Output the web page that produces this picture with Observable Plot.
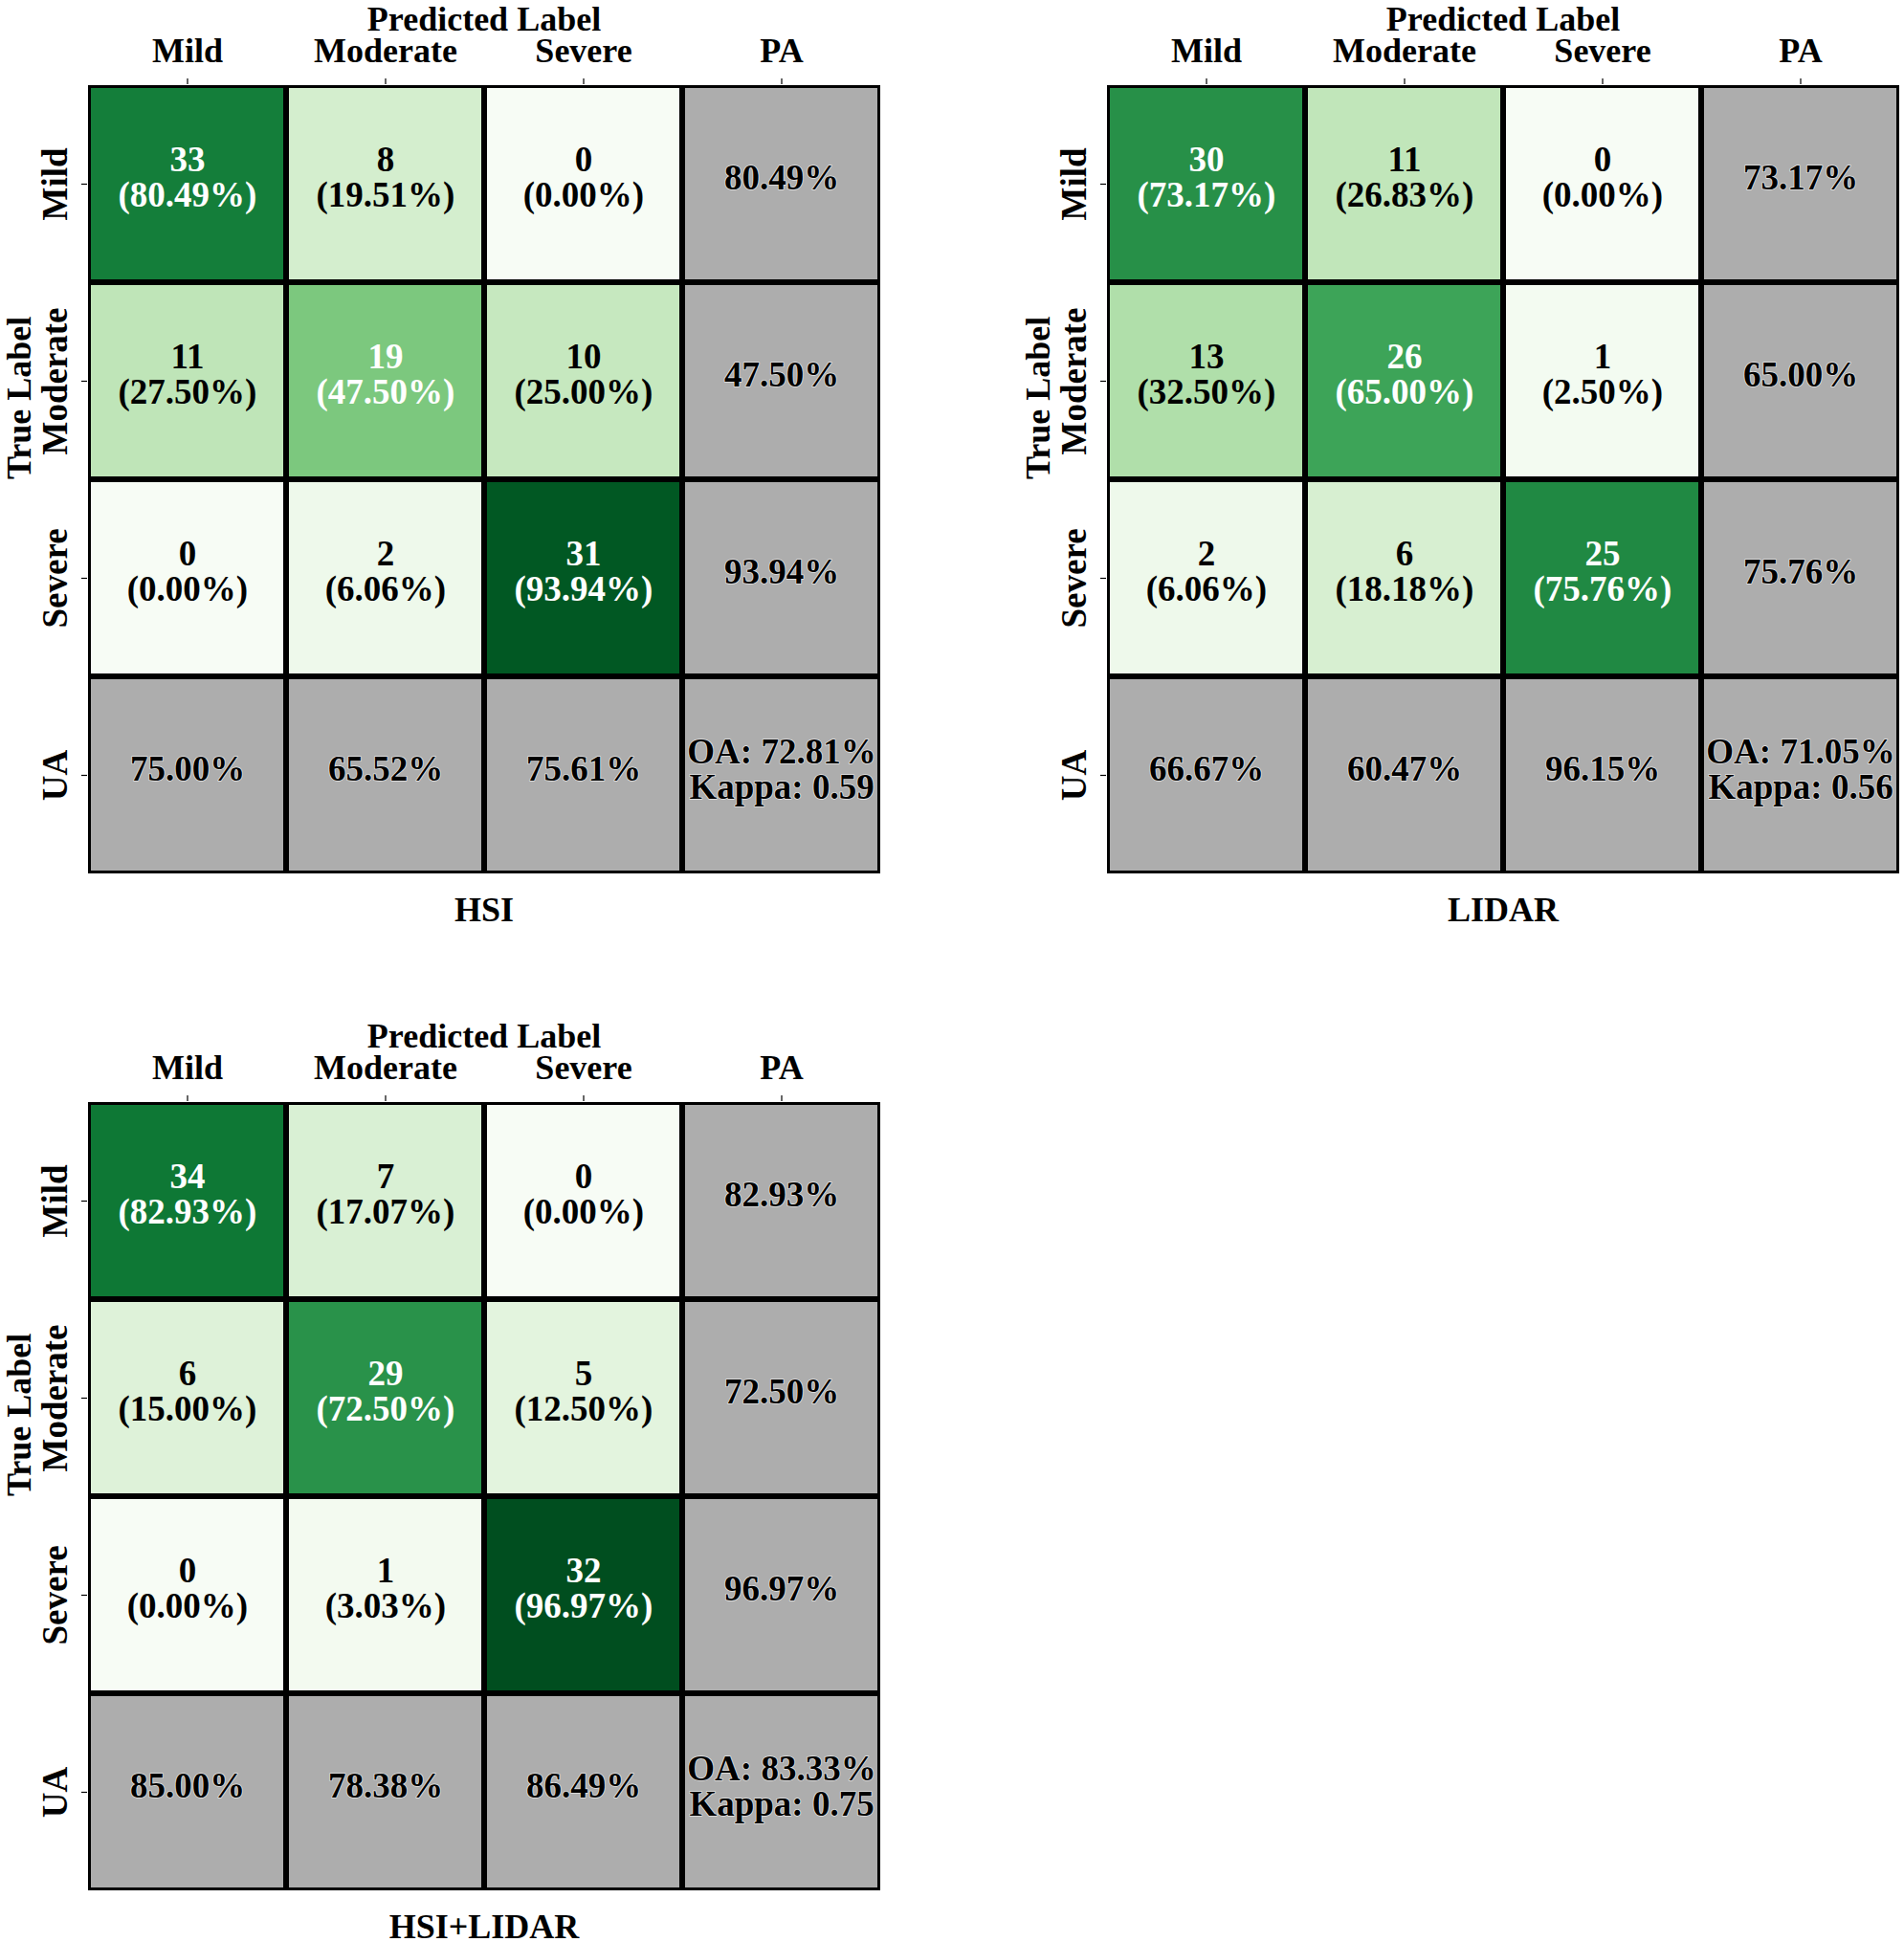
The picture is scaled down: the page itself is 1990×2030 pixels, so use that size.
<!DOCTYPE html>
<html>
<head>
<meta charset="utf-8">
<script src="https://cdn.jsdelivr.net/npm/d3@7"></script>
<script src="https://cdn.jsdelivr.net/npm/@observablehq/plot@0.6"></script>
<style>
  html, body { margin: 0; padding: 0; background: #fff; }
  #root { position: relative; width: 1990px; height: 2030px; overflow: hidden; background: #fff; }
  #root svg { position: absolute; overflow: visible; }
</style>
</head>
<body>
<div id="root"></div>
<script>
// ---- Data ----
const predictedLabels = ["Mild", "Moderate", "Severe"];
const trueLabels = ["Mild", "Moderate", "Severe"];
const colLabels = ["Mild", "Moderate", "Severe", "PA"];
const rowLabels = ["Mild", "Moderate", "Severe", "UA"];
const panelNames = ["HSI", "LIDAR", "HSI+LIDAR"];

const hsiCounts = [[33, 8, 0], [11, 19, 10], [0, 2, 31]];
const hsiPct = [[80.49, 19.51, 0.00], [27.50, 47.50, 25.00], [0.00, 6.06, 93.94]];
const hsiPA = [80.49, 47.50, 93.94];
const hsiUA = [75.00, 65.52, 75.61];
const hsiOA = 72.81, hsiKappa = 0.59;

const lidarCounts = [[30, 11, 0], [13, 26, 1], [2, 6, 25]];
const lidarPct = [[73.17, 26.83, 0.00], [32.50, 65.00, 2.50], [6.06, 18.18, 75.76]];
const lidarPA = [73.17, 65.00, 75.76];
const lidarUA = [66.67, 60.47, 96.15];
const lidarOA = 71.05, lidarKappa = 0.56;

const fusedCounts = [[34, 7, 0], [6, 29, 5], [0, 1, 32]];
const fusedPct = [[82.93, 17.07, 0.00], [15.00, 72.50, 12.50], [0.00, 3.03, 96.97]];
const fusedPA = [82.93, 72.50, 96.97];
const fusedUA = [85.00, 78.38, 86.49];
const fusedOA = 83.33, fusedKappa = 0.75;

const panels = [
  {name: panelNames[0], counts: hsiCounts, pct: hsiPct, pa: hsiPA, ua: hsiUA, oa: hsiOA, kappa: hsiKappa, left: 0, top: 0},
  {name: panelNames[1], counts: lidarCounts, pct: lidarPct, pa: lidarPA, ua: lidarUA, oa: lidarOA, kappa: lidarKappa, left: 1065, top: 0},
  {name: panelNames[2], counts: fusedCounts, pct: fusedPct, pa: fusedPA, ua: fusedUA, oa: fusedOA, kappa: fusedKappa, left: 0, top: 1063}
];

const FONT = "'Liberation Serif', 'Times New Roman', serif";
const FS = 37;
const GRAY = "#adadad";

function makePanel(p) {
  const matrix = [];
  trueLabels.forEach((r, i) => predictedLabels.forEach((c, j) => {
    matrix.push({row: r, col: c, count: p.counts[i][j], pct: p.pct[i][j]});
  }));
  const thresh = d3.max(matrix, d => d.pct) / 2;
  const stats = [];
  trueLabels.forEach((r, i) => stats.push({row: r, col: "PA", text: p.pa[i].toFixed(2) + "%"}));
  predictedLabels.forEach((c, j) => stats.push({row: "UA", col: c, text: p.ua[j].toFixed(2) + "%"}));
  stats.push({row: "UA", col: "PA", text: `OA: ${p.oa.toFixed(2)}%\nKappa: ${p.kappa.toFixed(2)}`});

  const svg = Plot.plot({
    width: 925,
    height: 967,
    marginTop: 87,
    marginLeft: 91,
    marginRight: 5,
    marginBottom: 53,
    x: {domain: colLabels, axis: null, padding: 0},
    y: {domain: rowLabels, axis: null, padding: 0},
    color: {type: "linear", scheme: "greens", domain: [0, 100]},
    style: {fontFamily: FONT, fontWeight: "bold", background: "transparent", overflow: "visible"},
    marks: [
      Plot.cell(matrix, {x: "col", y: "row", fill: "pct", stroke: "black", strokeWidth: 3, inset: 1.5}),
      Plot.cell(stats, {x: "col", y: "row", fill: GRAY, stroke: "black", strokeWidth: 3, inset: 1.5}),
      Plot.text(matrix, {
        x: "col", y: "row",
        text: d => `${d.count}\n(${d.pct.toFixed(2)}%)`,
        fill: d => d.pct > thresh ? "white" : "black",
        fontSize: FS, lineHeight: 1.0, dy: -7
      }),
      Plot.text(stats, {
        x: "col", y: "row", text: "text",
        fill: "black", stroke: "white", strokeWidth: 1.5, strokeOpacity: 0.7,
        fontSize: FS, lineHeight: 1.0, dy: -6
      }),
      Plot.axisX({anchor: "top", tickSize: 6, tickFormat: () => "", label: null, strokeWidth: 1.2}),
      Plot.axisY({anchor: "left", tickSize: 6, tickFormat: () => "", label: null, strokeWidth: 1.2}),
      Plot.text(colLabels, {x: d => d, frameAnchor: "top", dy: -34, fontSize: 36, lineAnchor: "middle"}),
      Plot.text(rowLabels, {y: d => d, frameAnchor: "left", dx: -33, rotate: -90, fontSize: FS, lineAnchor: "middle", textAnchor: "middle"}),
      Plot.text(["Predicted Label"], {frameAnchor: "top", dy: -67, fontSize: 36, lineAnchor: "middle"}),
      Plot.text(["True Label"], {frameAnchor: "left", dx: -71, rotate: -90, fontSize: 36, lineAnchor: "middle"}),
      Plot.text([p.name], {frameAnchor: "bottom", dy: 37, fontSize: 36, lineAnchor: "middle"})
    ]
  });
  svg.style.left = p.left + "px";
  svg.style.top = p.top + "px";
  return svg;
}

const root = document.getElementById("root");
panels.forEach(p => root.appendChild(makePanel(p)));
</script>
</body>
</html>
